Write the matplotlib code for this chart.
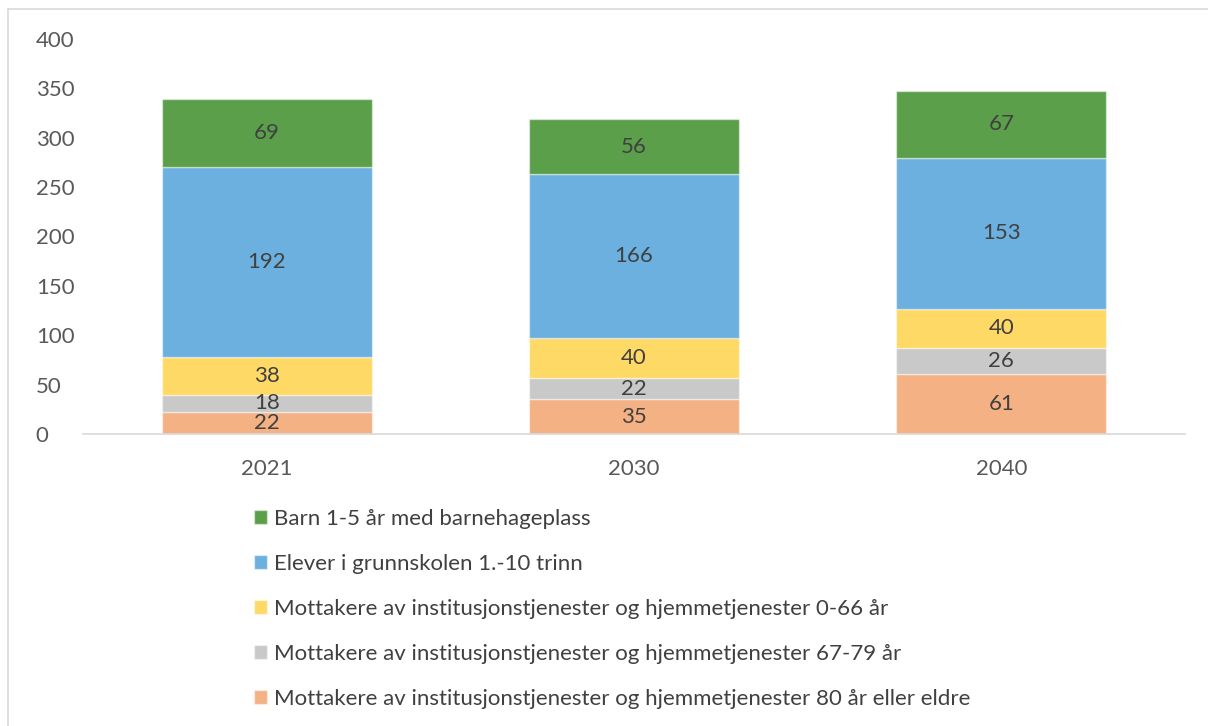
import matplotlib
matplotlib.use("Agg")
import matplotlib.pyplot as plt
from matplotlib.patches import Patch
from matplotlib.lines import Line2D
import numpy as np

plt.rcParams["font.family"] = ["Lato", "DejaVu Sans"]

aar = ["2021", "2030", "2040"]
# stablet nedenfra og opp
serier = [
    "Mottakere av institusjonstjenester og hjemmetjenester 80 år eller eldre",
    "Mottakere av institusjonstjenester og hjemmetjenester 67-79 år",
    "Mottakere av institusjonstjenester og hjemmetjenester 0-66 år",
    "Elever i grunnskolen 1.-10 trinn",
    "Barn 1-5 år med barnehageplass",
]
verdier = [
    [22, 35, 61],
    [18, 22, 26],
    [38, 40, 40],
    [192, 166, 153],
    [69, 56, 67],
]
farger = ["#F4B183", "#C9C9C9", "#FFD966", "#6CB0E0", "#5B9F4A"]

W, H = 1208, 726
fig = plt.figure(figsize=(W / 100, H / 100), dpi=100)
ax = fig.add_axes([83 / W, 1 - 434 / H, (1185 - 83) / W, (434 - 39) / H])

x = np.arange(len(aar))
bunn = np.zeros(len(aar))
for navn, v, f in zip(serier, verdier, farger):
    v = np.array(v, dtype=float)
    ax.bar(x, v, width=0.572, bottom=bunn, color=f,
           edgecolor=(1, 1, 1, 0.45), linewidth=1.0, zorder=2)
    for xi, b, vi in zip(x, bunn, v):
        ax.text(xi, b + vi / 2, f"{int(vi)}", ha="center", va="center",
                fontsize=16, color="#404040", zorder=3)
    bunn += v

ax.set_xlim(-0.5, 2.5)
ax.set_ylim(0, 400)
ax.set_yticks(range(0, 401, 50))
ax.set_xticks(x)
ax.set_xticklabels(aar)
ax.tick_params(axis="both", length=0, labelsize=16, colors="#595959")
ax.tick_params(axis="y", pad=34)
ax.tick_params(axis="x", pad=18)
for s in ["top", "right", "left"]:
    ax.spines[s].set_visible(False)
ax.spines["bottom"].set_color("#D9D9D9")
ax.spines["bottom"].set_linewidth(1.2)
for t in ax.get_yticklabels():
    t.set_horizontalalignment("left")

# forklaring, gronn overst
handles = [Patch(facecolor=f, edgecolor=(1, 1, 1, 0.45), label=n)
           for n, f in zip(serier[::-1], farger[::-1])]
fig.legend(handles=handles, loc="upper left",
           bbox_to_anchor=(254 / W, 1 - 509 / H), frameon=False,
           fontsize=16, labelcolor="#404040", handlelength=0.6,
           handleheight=0.6, handletextpad=0.3, labelspacing=1.12,
           borderpad=0, borderaxespad=0)

# ramme rundt diagrammet
ramme = dict(color="#D9D9D9", linewidth=1.2, transform=fig.transFigure)
fig.add_artist(Line2D([8 / W, 1], [1 - 9 / H, 1 - 9 / H], **ramme))
fig.add_artist(Line2D([8 / W, 8 / W], [0, 1 - 9 / H], **ramme))

fig.savefig("out.png", dpi=100)
